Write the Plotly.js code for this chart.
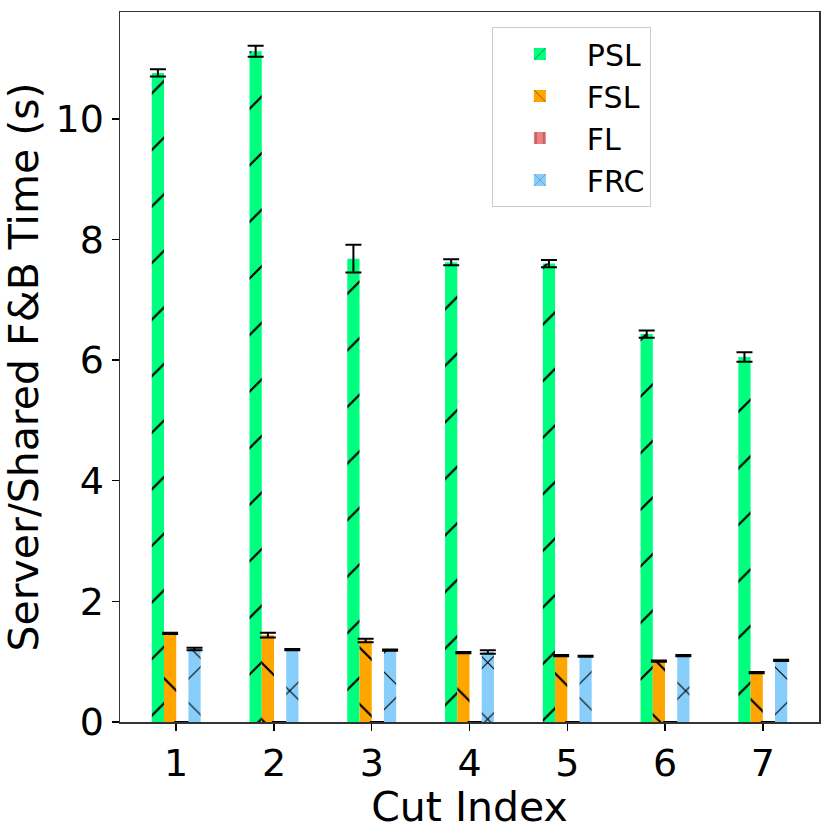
<!DOCTYPE html>
<html>
<head>
<meta charset="utf-8">
<script src="https://cdn.plot.ly/plotly-3.0.1.min.js"></script>
<style>
  html, body { margin: 0; padding: 0; background: #fff; }
  #chart { width: 831px; height: 831px; }
</style>
</head>
<body>
<div id="chart"></div>
<script>
var CUTS = [1, 2, 3, 4, 5, 6, 7];

var PSL = [10.76, 11.12, 7.68, 7.62, 7.60, 6.43, 6.05];
var PSL_ERR = [0.06, 0.09, 0.23, 0.05, 0.06, 0.06, 0.08];
var FSL = [1.47, 1.44, 1.35, 1.15, 1.10, 1.01, 0.82];
var FSL_ERR = [0.01, 0.04, 0.03, 0.01, 0.01, 0.01, 0.01];
var FL = [0, 0, 0, 0, 0, 0, 0];
var FL_ERR = [0, 0, 0, 0, 0, 0, 0];
var FRC = [1.21, 1.20, 1.19, 1.16, 1.09, 1.10, 1.02];
var FRC_ERR = [0.02, 0.01, 0.01, 0.03, 0.01, 0.01, 0.01];

var FONT = "DejaVu Sans, Liberation Sans, sans-serif";

function series(name, values, errs, color, shape) {
    return {
        type: 'bar',
        name: name,
        x: CUTS,
        y: values,
        marker: {
            color: color,
            line: { width: 0 },
            pattern: {
                shape: shape,
                size: 40,
                solidity: 0.055,
                fgcolor: '#000000',
                bgcolor: color,
                fgopacity: 1
            }
        },
        error_y: {
            type: 'data',
            array: errs,
            visible: true,
            color: '#000000',
            thickness: 2,
            width: 8
        }
    };
}

var data = [
    series('PSL', PSL, PSL_ERR, '#00FF7F', '/'),
    series('FSL', FSL, FSL_ERR, '#FFA500', '\\'),
    series('FL', FL, FL_ERR, '#F08080', '|'),
    series('FRC', FRC, FRC_ERR, '#87CEFA', 'x')
];

var layout = {
    width: 831,
    height: 831,
    margin: { l: 120, r: 12, t: 12, b: 109 },
    paper_bgcolor: '#ffffff',
    plot_bgcolor: '#ffffff',
    font: { family: FONT, color: '#000000', size: 38 },
    barmode: 'group',
    bargap: 0.5,
    bargroupgap: 0,
    showlegend: true,
    legend: {
        x: 0.532,
        y: 0.979,
        xanchor: 'left',
        yanchor: 'top',
        bgcolor: '#ffffff',
        bordercolor: '#cccccc',
        borderwidth: 1,
        itemwidth: 84,
        font: { family: FONT, size: 30, color: '#000000' }
    },
    xaxis: {
        range: [0.425, 7.575],
        tickvals: CUTS,
        ticktext: CUTS.map(String),
        ticks: 'outside',
        ticklen: 7,
        tickwidth: 1.5,
        tickcolor: '#000000',
        showline: true,
        linecolor: '#333333',
        linewidth: 1.5,
        mirror: true,
        showgrid: false,
        zeroline: false,
        tickfont: { family: FONT, size: 38 },
        title: { text: 'Cut Index', font: { family: FONT, size: 41 }, standoff: 0 }
    },
    yaxis: {
        range: [0, 11.77],
        tickvals: [0, 2, 4, 6, 8, 10],
        ticks: 'outside',
        ticklen: 7,
        tickwidth: 1.5,
        tickcolor: '#000000',
        showline: true,
        linecolor: '#333333',
        linewidth: 1.5,
        mirror: true,
        showgrid: false,
        zeroline: false,
        tickfont: { family: FONT, size: 38 },
        title: { text: 'Server/Shared F&amp;B Time (s)', font: { family: FONT, size: 41 }, standoff: 8 }
    }
};

Plotly.newPlot('chart', data, layout, { displayModeBar: false, staticPlot: true });
</script>
</body>
</html>
